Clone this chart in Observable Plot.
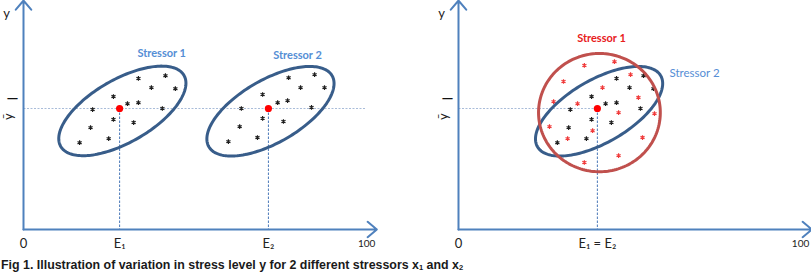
<!DOCTYPE html>
<html><head><meta charset="utf-8">
<script src="https://cdn.jsdelivr.net/npm/d3@7"></script>
<script src="https://cdn.jsdelivr.net/npm/@observablehq/plot@0.6"></script>
<style>
html,body{margin:0;padding:0;background:#fff;}
#caption{font:bold 12.4px "Liberation Sans",Arial,sans-serif;color:#1a1a1a;line-height:14px;white-space:nowrap;margin:0;padding-left:1px;}
#caption sub{font-size:7.5px;vertical-align:-1px;line-height:0;}
</style></head><body>
<div id="chart"></div>
<div id="caption">Fig 1. Illustration of variation in stress level y for 2 different stressors x<sub>1</sub> and x<sub>2</sub></div>
<script>
// panels: A = stressors with different means, B = same mean
const panels = ["A", "B"];

// Panel A, stressor 1 observations
const aS1X = [33.6, 41.5, 37.4, 44.4, 26.3, 30.4, 33.6, 20.2, 40.6, 26.3, 32.2, 19.6, 24.9, 16.4];
const aS1Y = [44.2, 45.0, 41.5, 41.2, 38.9, 36.8, 37.1, 35.1, 35.4, 32.2, 31.3, 29.8, 26.6, 25.4];
// Panel A, stressor 2 observations
const aS2X = [77.5, 85.1, 81.0, 88.0, 69.9, 74.3, 77.2, 63.7, 84.2, 69.9, 76.0, 63.2, 68.4, 59.9];
const aS2Y = [44.4, 45.3, 41.5, 41.5, 39.5, 37.1, 37.7, 35.4, 35.7, 32.5, 31.6, 30.1, 26.9, 25.7];
// Panel B, stressor 2 observations (black)
const bS2X = [46.2, 54.1, 50.0, 57.0, 38.9, 43.0, 46.2, 32.7, 53.2, 38.9, 44.7, 32.2, 37.4, 28.9];
const bS2Y = [44.2, 45.0, 41.5, 41.2, 38.9, 36.8, 37.1, 35.1, 35.4, 32.2, 31.3, 29.8, 26.6, 25.4];
// Panel B, stressor 1 observations (red)
const bS1X = [36.8, 45.6, 30.7, 50.3, 42.1, 52.6, 27.8, 34.8, 46.8, 57.3, 26.6, 39.2, 31.9, 53.8, 46.8, 36.8];
const bS1Y = [48.0, 49.1, 43.3, 45.3, 41.5, 38.6, 37.4, 36.8, 34.2, 33.9, 30.1, 28.9, 26.6, 26.9, 21.6, 19.6];

// mean exposure E and mean stress level ybar
const meanPanel = ["A", "A", "B"];
const meanE = [28.1, 71.6, 40.6];
const yBar = 35.4;

// dispersion ellipses: panel, centre, semi-axes, tilt (deg)
const ellPanel = ["A", "A", "B", "B"];
const ellName = ["Stressor 1", "Stressor 2", "Stressor 2", "Stressor 1"];
const ellCx = [28.9, 72.2, 41.1, 41.2];
const ellCy = [34.7, 34.6, 34.6, 34.2];
const ellA = [20.8, 20.8, 20.8, 17.8];
const ellB = [9.2, 9.2, 9.2, 17.3];
const ellTilt = [30, 30, 30, 0];

// tick labels on the exposure axis
const tickPanel = ["A", "A", "A", "B", "B"];
const tickX = [0, 28.1, 71.6, 0, 40.6];
const tickText = ["0", "E\u2081", "E\u2082", "0", "E\u2081 = E\u2082"];
const maxPanel = ["A", "B"];
const maxX = [100.3, 100];
const maxText = ["100", "100"];

// series labels
const labPanel = ["A", "A", "B", "B"];
const labText = ["Stressor 1", "Stressor 2", "Stressor 1", "Stressor 2"];
const labX = [40.4, 80.1, 41.8, 69.0];
const labY = [51.5, 50.9, 55.8, 45.6];

const xEnd = 103.3, yEnd = 67;

const pts = (panel, xs, ys) => xs.map((x, i) => ({panel, x, y: ys[i]}));
const ellipses = ellPanel.map((p, i) => ({panel: p, name: ellName[i], cx: ellCx[i], cy: ellCy[i], a: ellA[i], b: ellB[i], tilt: ellTilt[i], id: i}));
const outline = e => d3.range(0, 361, 2).map(t => {
  const r = t * Math.PI / 180, q = e.tilt * Math.PI / 180;
  return {panel: e.panel, id: e.id,
    x: e.cx + e.a * Math.cos(r) * Math.cos(q) - e.b * Math.sin(r) * Math.sin(q),
    y: e.cy + e.a * Math.cos(r) * Math.sin(q) + e.b * Math.sin(r) * Math.cos(q)};
});
const blueOutlines = ellipses.filter(e => e.panel === "A" || e.name === "Stressor 2").flatMap(outline);
const redOutlines = ellipses.filter(e => e.panel === "B" && e.name === "Stressor 1").flatMap(outline);

const axes = panels.flatMap(p => [
  {panel: p, x1: 0, y1: 0, x2: xEnd, y2: 0},
  {panel: p, x1: 0, y1: 0, x2: 0, y2: yEnd}
]);
const means = meanPanel.map((p, i) => ({panel: p, x: meanE[i], y: yBar}));
const hLines = [{panel: "A", x1: 0, x2: 100}, {panel: "B", x1: 0, x2: meanE[2]}];
const ticks = tickPanel.map((p, i) => ({panel: p, x: tickX[i], text: tickText[i]}));
const maxTicks = maxPanel.map((p, i) => ({panel: p, x: maxX[i], text: maxText[i]}));
const labels = labPanel.map((p, i) => ({panel: p, x: labX[i], y: labY[i], text: labText[i]}));

const blue = "#4f81bd", navy = "#385d8a", dark = "#1e1e1e";

const chart = Plot.plot({
  width: 811, height: 258,
  marginLeft: 23, marginRight: 0, marginTop: 0, marginBottom: 29,
  style: {fontFamily: "Lato, 'DejaVu Sans', sans-serif", background: "#fff"},
  fx: {domain: panels, paddingInner: 0.1885, paddingOuter: 0, round: false, axis: null, label: null},
  x: {domain: [0, 103.2], axis: null},
  y: {domain: [0, 67], range: [229, 0], axis: null},
  marks: [
    // mean lines
    Plot.link(hLines, {fx: "panel", x1: "x1", x2: "x2", y1: yBar, y2: yBar, stroke: "#a9bcd9", strokeWidth: 1, strokeDasharray: "2,1.5"}),
    Plot.link(means, {fx: "panel", x1: "x", x2: "x", y1: "y", y2: 0, stroke: "#4a78b8", strokeWidth: 1, strokeDasharray: "2.5,1.5"}),
    // axes
    Plot.arrow(axes, {fx: "panel", x1: "x1", y1: "y1", x2: "x2", y2: "y2", stroke: blue, strokeWidth: 2, headLength: 9, headAngle: 80}),
    // observations
    Plot.dot(pts("A", aS1X, aS1Y), {fx: "panel", x: "x", y: "y", symbol: "asterisk", r: 2.2, stroke: dark, strokeWidth: 1.2}),
    Plot.dot(pts("A", aS2X, aS2Y), {fx: "panel", x: "x", y: "y", symbol: "asterisk", r: 2.2, stroke: dark, strokeWidth: 1.2}),
    Plot.dot(pts("B", bS2X, bS2Y), {fx: "panel", x: "x", y: "y", symbol: "asterisk", r: 2.2, stroke: dark, strokeWidth: 1.2}),
    Plot.dot(pts("B", bS1X, bS1Y), {fx: "panel", x: "x", y: "y", symbol: "asterisk", r: 2.2, stroke: "#f03a3a", strokeWidth: 1.2}),
    // ellipses
    Plot.line(blueOutlines, {fx: "panel", x: "x", y: "y", z: "id", stroke: navy, strokeWidth: 3, curve: "linear"}),
    Plot.line(redOutlines, {fx: "panel", x: "x", y: "y", z: "id", stroke: "#c0504d", strokeWidth: 3, curve: "linear"}),
    // means
    Plot.dot(means, {fx: "panel", x: "x", y: "y", r: 3.6, fill: "#ff0000"}),
    // labels
    Plot.text(labels.filter(d => d.panel === "A"), {fx: "panel", x: "x", y: "y", text: "text", fill: "#558ed5", fontSize: 11, fontWeight: "bold"}),
    Plot.text(labels.filter(d => d.panel === "B" && d.text === "Stressor 1"), {fx: "panel", x: "x", y: "y", text: "text", fill: "#e8201c", fontSize: 11, fontWeight: "bold"}),
    Plot.text(labels.filter(d => d.panel === "B" && d.text === "Stressor 2"), {fx: "panel", x: "x", y: "y", text: "text", fill: "#558ed5", fontSize: 11.5}),
    Plot.text(ticks, {fx: "panel", x: "x", y: 0, dy: 14, text: "text", fill: "#222", fontSize: 13}),
    Plot.text(maxTicks, {fx: "panel", x: "x", y: 0, dy: 14, text: "text", fill: "#222", fontSize: 10}),
    // y axis labels
    Plot.text(panels.map(p => ({panel: p})), {fx: "panel", x: 0, y: 63.2, dx: -17, text: () => "y", fill: "#222", fontSize: 13}),
    Plot.text(panels.map(p => ({panel: p})), {fx: "panel", x: 0, y: 38.3, dx: -11, text: () => "\u2014", fill: "#111", fontSize: 15, fontWeight: "bold"}),
    Plot.text(panels.map(p => ({panel: p})), {fx: "panel", x: 0, y: 33.0, dx: -15, text: () => "\u0233", rotate: -90, fill: "#222", fontSize: 13})
  ]
});
document.getElementById("chart").appendChild(chart);
</script>
</body></html>
